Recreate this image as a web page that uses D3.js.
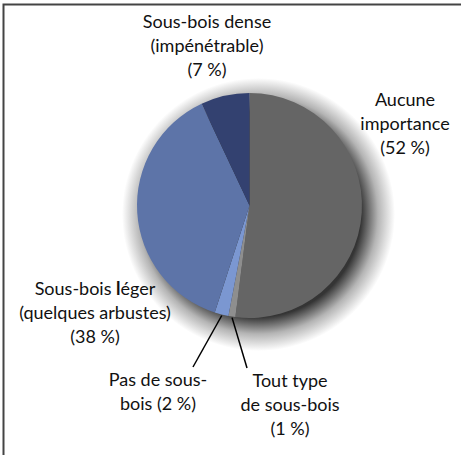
<!DOCTYPE html>
<html>
<head>
<meta charset="utf-8">
<script src="https://cdn.jsdelivr.net/npm/d3@7"></script>
<style>
  body { margin: 0; background: #fff; }
  text { font-family: Lato, "Open Sans", sans-serif; font-size: 18px; fill: #111; }
</style>
</head>
<body>
<div id="pie"></div>
<script>
// Share of plots by importance of the undergrowth

// Data
let categories = ["Aucune importance", "Tout type de sous-bois", "Pas de sous-bois",
    "Sous-bois léger", "Sous-bois dense"];
let values = [52, 1, 2, 38, 7];
let colours = ["#656565", "#8e8e8e", "#7b97d1", "#5d74a8", "#334170"];

// Label lines for each slice (text only)
let labelLines = [
    ["Aucune", "importance", "(52 %)"],
    ["Tout type", "de sous-bois", "(1 %)"],
    ["Pas de sous-", "bois (2 %)"],
    ["Sous-bois léger", "(quelques arbustes)", "(38 %)"],
    ["Sous-bois dense", "(impénétrable)", "(7 %)"]
];

// Set chart size
let width = 461,
    height = 455,
    radius = 112.5,
    cx = 249.5,
    cy = 205.5,
    shadowSpread = 24;

let svg = d3.select("#pie")
    .append("svg")
    .attr("width", width)
    .attr("height", height);

// Frame: top and left edges only
svg.append("path")
    .attr("d", `M3.5,${height} V4.5 H${width}`)
    .attr("fill", "none")
    .attr("stroke", "#444")
    .attr("stroke-width", 2);

// Radial gradient that fades the shadow out past the pie edge
let grad = svg.append("defs").append("radialGradient")
    .attr("id", "shade");
let inner = (radius - 10) / (radius + shadowSpread);
grad.append("stop").attr("offset", 0).attr("stop-color", "#2a2a2a").attr("stop-opacity", 0.95);
grad.append("stop").attr("offset", inner).attr("stop-color", "#2a2a2a").attr("stop-opacity", 0.95);
grad.append("stop").attr("offset", (inner + 1) / 2).attr("stop-color", "#2a2a2a").attr("stop-opacity", 0.35);
grad.append("stop").attr("offset", 1).attr("stop-color", "#2a2a2a").attr("stop-opacity", 0);

let pie = d3.pie().sort(null).value((d) => d);
let arcs = pie(values);

let arc = d3.arc().innerRadius(0).outerRadius(radius);
let edge = d3.arc().innerRadius(radius - 1).outerRadius(radius - 1);

let g = svg.append("g")
    .attr("transform", `translate(${cx}, ${cy})`);

// Shadow, shifted down and to the right
g.append("circle")
    .attr("cx", 9)
    .attr("cy", 9)
    .attr("r", radius + shadowSpread)
    .attr("fill", "url(#shade)");

g.append("g")
    .selectAll("path")
    .data(arcs)
    .enter().append("path")
    .attr("d", arc)
    .attr("fill", (d, i) => colours[i]);

// Label anchors (x centre, first line centre) relative to the page
let labelPos = [
    [405, 100],
    [290, 381],
    [158, 380],
    [95, 289],
    [207, 22]
];
let lineHeight = 24;

labelLines.forEach(function (lines, i) {
    lines.forEach(function (line, j) {
        let t = svg.append("text")
            .attr("text-anchor", "middle")
            .attr("x", labelPos[i][0])
            .attr("y", labelPos[i][1] + j * lineHeight)
            .attr("dy", "0.35em");
        if (line === "Sous-bois léger") {
            t.append("tspan").text("Sous-bois ");
            t.append("tspan").attr("font-weight", "bold").text("l");
            t.append("tspan").text("éger");
        } else {
            t.text(line);
        }
    });
});

// Leader lines for the two thin slices
let leaderEnds = { 1: [247, 368], 2: [193, 367] };
Object.keys(leaderEnds).forEach(function (k) {
    let p = edge.centroid(arcs[k]);
    svg.append("line")
        .attr("x1", cx + p[0])
        .attr("y1", cy + p[1] + 2)
        .attr("x2", leaderEnds[k][0])
        .attr("y2", leaderEnds[k][1])
        .attr("stroke", "#000")
        .attr("stroke-width", 1.5);
});
</script>
</body>
</html>
